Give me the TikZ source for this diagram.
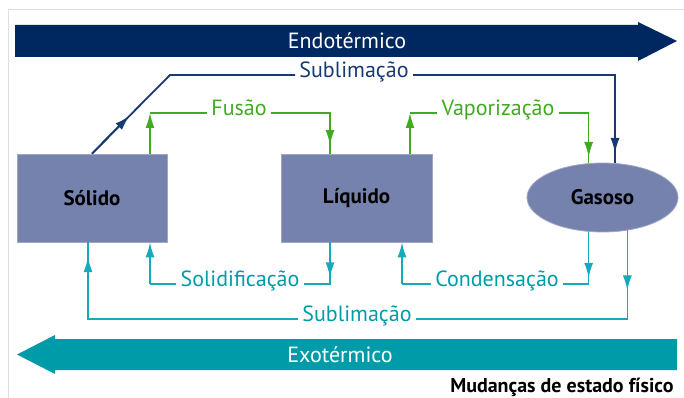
\documentclass[tikz,border=0pt]{standalone}
\usepackage{fontspec}
\setmainfont{PT Sans}
\usetikzlibrary{shapes.geometric,calc,arrows.meta}

\definecolor{endoblue}{RGB}{0,40,96}
\definecolor{exoteal}{RGB}{0,155,168}
\definecolor{sublblue}{RGB}{22,58,115}
\definecolor{fusgreen}{RGB}{64,170,32}
\definecolor{condcyan}{RGB}{20,170,188}
\definecolor{statefill}{RGB}{118,130,174}

\tikzset{
  state/.style={draw=statefill!70!white, fill=statefill, line width=0.8pt,
    font=\fontsize{21}{24}\selectfont\bfseries, text=black},
  stlabel/.style={font=\fontsize{22}{26}\selectfont, inner sep=4pt, anchor=mid},
  banner/.style={font=\fontsize{22}{26}\selectfont, text=white},
  >={Latex[length=15pt,width=9pt]},
}

\begin{document}
\begin{tikzpicture}[x=1pt, y=-1pt]
    \useasboundingbox (0,0) rectangle (684,398);

    % Frame (thin gray edge)
    \draw[black!13, line width=1pt] (8,398) -- (8,10) -- (684,10);

    % Banners
    \fill[endoblue] (15,25) -- (638,25) -- (638,22) -- (677,41) -- (638,61)
        -- (638,57) -- (15,57) -- cycle;
    \node[banner] (endo) at (347,41) {Endotérmico};
    \fill[exoteal] (677,339) -- (55,339) -- (55,335) -- (17,354.5) -- (55,374)
        -- (55,370) -- (677,370) -- cycle;
    \node[banner] (exo) at (340,354.5) {Exotérmico};

    % States
    \node[state, minimum width=150pt, minimum height=88pt] (solido) at (92,198) {Sólido};
    \node[state, minimum width=151pt, minimum height=88pt] (liquido) at (356.5,198) {Líquido};
    \node[state, ellipse, inner sep=0pt, minimum width=151pt, minimum height=69pt]
        (gasoso) at (602.5,197.5) {Gasoso};

    % Process labels
    \node[stlabel, text=sublblue] (sublA) at (354,75) {Sublimação};
    \node[stlabel, text=fusgreen] (fus) at (239,113) {Fusão};
    \node[stlabel, text=fusgreen] (vap) at (498,113) {Vaporização};
    \node[stlabel, text=exoteal] (solid) at (240,284) {Solidificação};
    \node[stlabel, text=exoteal] (cond) at (497,284) {Condensação};
    \node[stlabel, text=exoteal] (sublB) at (357,319) {Sublimação};

    % Corners
    \coordinate (sbC) at (170,75);
    \coordinate (sbD) at (gasoso.70 |- sublA.mid);
    \coordinate (fA) at (150,113);
    \coordinate (fB) at (330,113);
    \coordinate (vA) at (410,113);
    \coordinate (vB) at (gasoso.112 |- vap.mid);
    \coordinate (sA) at (330,284);
    \coordinate (sB) at (150,284);
    \coordinate (cA) at (gasoso.248 |- cond.mid);
    \coordinate (cB) at (402,284);
    \coordinate (bA) at (gasoso.-53 |- sublB.mid);
    \coordinate (bB) at (88,319);

    % Sublimation (solid -> gas)
    \draw[sublblue, line width=1.8pt] (solido.north) -- (sbC) -- (sublA.mid west);
    \draw[sublblue, line width=1.8pt] (sublA.mid east) -- (sbD) -- (gasoso.70);
    \draw[sublblue, line width=1.8pt, ->] (solido.north) -- ($(solido.north)!0.48!(sbC)$);
    \draw[sublblue, line width=1.5pt, ->] (sbD) -- ++(0,78);

    % Fusion
    \draw[fusgreen, line width=1.5pt] (fA) -- (fus.mid west);
    \draw[fusgreen, line width=1.5pt] (fus.mid east) -- (fB) -- (liquido.north -| fB);
    \draw[fusgreen, line width=1.5pt, ->] (solido.north -| fA) -- (fA);
    \draw[fusgreen, line width=1.5pt, ->] (fB) -- ++(0,32);

    % Vaporization
    \draw[fusgreen, line width=1.5pt] (vA) -- (vap.mid west);
    \draw[fusgreen, line width=1.5pt] (vap.mid east) -- (vB) -- (gasoso.112);
    \draw[fusgreen, line width=1.5pt, ->] (liquido.north -| vA) -- (vA);
    \draw[fusgreen, line width=1.5pt, ->] (vB) -- ++(0,44);

    % Solidification
    \draw[condcyan, line width=1.5pt] (liquido.south -| sA) -- (sA) -- (solid.mid east);
    \draw[condcyan, line width=1.5pt] (solid.mid west) -- (sB);
    \draw[condcyan, line width=1.5pt, ->] (liquido.south -| sA) -- ++(0,35);
    \draw[condcyan, line width=1.5pt, ->] (sB) -- (solido.south -| sB);

    % Condensation
    \draw[condcyan, line width=1.5pt] (gasoso.248) -- (cA) -- (cond.mid east);
    \draw[condcyan, line width=1.5pt] (cond.mid west) -- (cB);
    \draw[condcyan, line width=1.5pt, ->] (gasoso.248) -- ++(0,46);
    \draw[condcyan, line width=1.5pt, ->] (cB) -- (liquido.south -| cB);

    % Deposition (gas -> solid)
    \draw[condcyan, line width=1.5pt] (gasoso.-53) -- (bA) -- (sublB.mid east);
    \draw[condcyan, line width=1.5pt] (sublB.mid west) -- (bB) -- (solido.south -| bB);
    \draw[condcyan, line width=1.5pt, ->] (gasoso.-53) -- ++(0,60);
    \draw[condcyan, line width=1.5pt, ->] (bB) -- ++(0,-62);

    % Caption
    \node[anchor=base east, font=\fontsize{20}{24}\selectfont\bfseries] (caption)
        at (677,392) {Mudanças de estado físico};
\end{tikzpicture}
\end{document}
